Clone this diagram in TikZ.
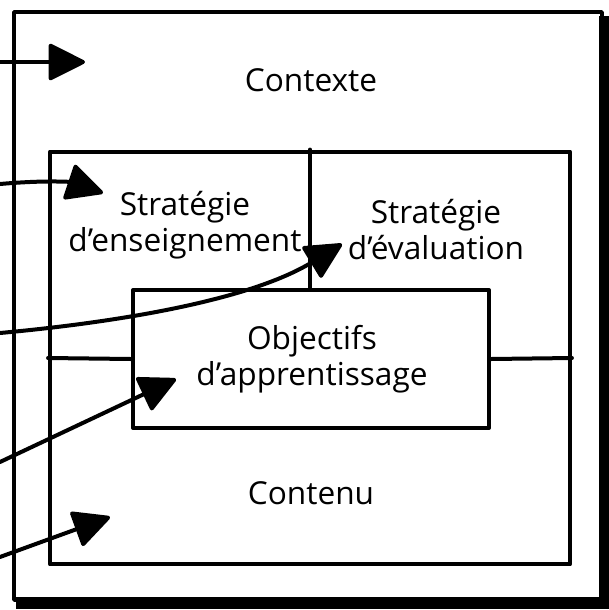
\documentclass[tikz,border=0pt]{standalone}
\usepackage{fontspec}
\setmainfont{Open Sans}
\usetikzlibrary{arrows.meta}

\begin{document}
\begin{tikzpicture}[x=.02cm,y=-.02cm,line width=.08cm,line join=round,line cap=round,
 box/.style={draw,inner sep=0pt},
 lbl/.style={align=center,font=\fontsize{18}{20.5}\selectfont},
 arr/.style={-{Triangle[length=.78cm,width=.76cm,round]}}]
 \useasboundingbox (0,0) rectangle (609,610);
 % boxes
 \node[box,minimum width=11.76cm,minimum height=11.76cm] (ctx) at (308,306) {};
 \fill (599,16) rectangle (609,609);
 \fill (16,597) rectangle (609,609);
 \node[box,minimum width=10.4cm,minimum height=8.26cm] (core) at (310,358) {};
 \node[box,fill=white,minimum width=7.12cm,minimum height=2.76cm] (obj) at (311,359) {};
 \draw (core.north) -- (core.north |- obj.north);
 \draw (core.west) -- (obj.west);
 \draw (obj.east) -- (core.east);
 % labels
 \node[lbl] (ctxt) at (311,80) {Contexte};
 \node[lbl] (ens) at (185,225) {Stratégie\\d’enseignement};
 \node[lbl] (eval) at (436,230) {Stratégie\\d’évaluation};
 \node[lbl] (objt) at (312,359) {Objectifs\\d’apprentissage};
 \node[lbl] (cont) at (311,493) {Contenu};
 % arrows
 \coordinate (s1) at (0,62);  \coordinate (t1) at (85,62);
 \coordinate (s2) at (0,184); \coordinate (t2) at (103,193);
 \coordinate (s3) at (0,333); \coordinate (t3) at (342,244);
 \coordinate (s4) at (0,462); \coordinate (t4) at (176,379);
 \coordinate (s5) at (0,557); \coordinate (t5) at (110,517);
 \draw[arr] (s1) -- (t1);
 \draw[arr] (s2) .. controls (45,180) and (70,182) .. (t2);
 \draw[arr] (s3) .. controls (120,322) and (250,300) .. (t3);
 \draw[arr] (s4) -- (t4);
 \draw[arr] (s5) -- (t5);
\end{tikzpicture}
\end{document}
